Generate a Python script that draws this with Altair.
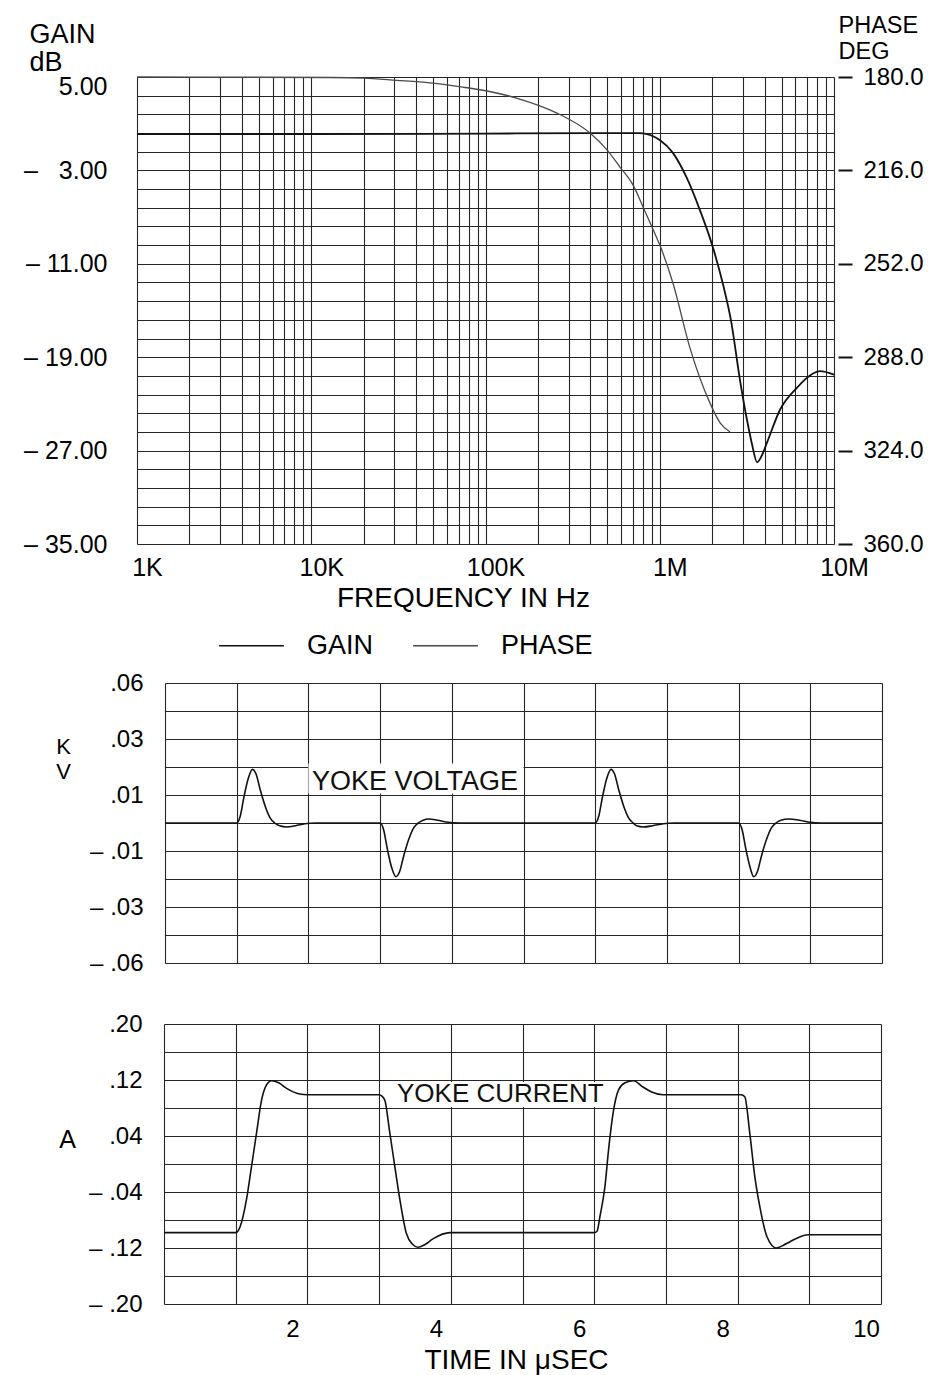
import json
import altair as alt
import pandas as pd

FONT = "Liberation Sans"
INK = "#111111"
PHASE_INK = "#4a4a4a"
GRID = "#262626"

W = 928
H_TOP, H_MID, H_BOT = 665, 330, 380

# ---------------- Bode plot (gain / phase vs frequency) ----------------
gain_freq = [1e3, 1e4, 1e5, 5e5, 7.7e5, 1.0e6, 1.19e6, 1.43e6, 1.70e6, 2.0e6,
             2.31e6, 2.56e6, 2.89e6, 3.17e6, 3.39e6, 3.62e6, 3.86e6, 4.13e6,
             4.9e6, 6.14e6, 7.58e6, 8.32e6, 1e7]
gain_db = [0.1, 0.1, 0.15, 0.2, 0.2, -0.4, -1.5, -3.65, -6.4, -9.4,
           -12.8, -15.8, -21.0, -24.4, -26.5, -28.0, -27.4, -26.3,
           -23.5, -21.6, -20.4, -20.2, -20.5]

phase_freq = [1e3, 5e3, 12.8e3, 19.8e3, 31e3, 48e3, 74e3, 102e3, 152e3, 257e3,
              398e3, 498e3, 591e3, 702e3, 802e3, 902e3, 1.0e6, 1.19e6, 1.49e6,
              1.94e6, 2.22e6, 2.53e6]
phase_deg = [180.0, 180.1, 180.2, 180.4, 181.3, 182.3, 183.9, 185.4, 188.2, 193.9,
             201.6, 208.1, 214.7, 221.6, 230.1, 237.8, 244.7, 259.4, 284.4,
             305.6, 313.3, 316.8]

series_names = ["GAIN", "PHASE"]

freq_grid = [m * 10 ** e for e in range(3, 7) for m in range(1, 10)] + [10 ** 7]
freq_label_vals = [1000, 10000, 100000, 1000000, 10000000]
freq_labels = ["1K", "10K", "100K", "1M", "10M"]

gain_grid = [5, 3.4, 1.8, 0.2, -1.4, -3, -4.6, -6.2, -7.8, -9.4, -11, -12.6, -14.2,
             -15.8, -17.4, -19, -20.6, -22.2, -23.8, -25.4, -27, -28.6, -30.2,
             -31.8, -33.4, -35]
gain_label_keys = [50, -30, -110, -190, -270, -350]          # value * 10
gain_labels = ["5.00", "\u2013\u00a0\u00a0\u00a03.00", "\u2013\u00a011.00",
               "\u2013\u00a019.00", "\u2013\u00a027.00", "\u2013\u00a035.00"]

phase_ticks = [180, 216, 252, 288, 324, 360]

# ---------------- Yoke voltage ----------------
volt_t = [0.0, 1.0, 1.05, 1.10, 1.16, 1.22, 1.27, 1.33, 1.40, 1.47,
          1.53, 1.60, 1.70, 1.82, 1.95, 2.10, 3.0, 3.05, 3.10, 3.16,
          3.22, 3.27, 3.33, 3.40, 3.47, 3.53, 3.60, 3.68, 3.80, 3.95,
          4.10, 6.0, 6.05, 6.10, 6.16, 6.22, 6.27, 6.33, 6.40, 6.47,
          6.53, 6.58, 6.67, 6.80, 6.95, 7.10, 8.0, 8.05, 8.10, 8.16,
          8.21, 8.26, 8.32, 8.39, 8.46, 8.52, 8.59, 8.70, 8.85, 9.0,
          9.15, 10.0]
volt_kv = [0, 0, 0.003, 0.011, 0.019, 0.023, 0.021, 0.014, 0.007, 0.002,
           0.0, -0.0012, -0.0017, -0.0012, -0.0003, 0, 0, -0.003, -0.011, -0.019,
           -0.023, -0.021, -0.014, -0.007, -0.002, 0.0, 0.0012, 0.0017, 0.0012, 0.0003,
           0, 0, 0.003, 0.011, 0.019, 0.023, 0.021, 0.014, 0.007, 0.002,
           0.0, -0.0012, -0.0017, -0.0012, -0.0003, 0, 0, -0.003, -0.011, -0.019,
           -0.023, -0.021, -0.014, -0.007, -0.002, 0.0, 0.0012, 0.0017, 0.0012, 0.0003,
           0, 0]
volt_grid = [0.06, 0.048, 0.036, 0.024, 0.012, 0, -0.012, -0.024, -0.036, -0.048, -0.06]
volt_label_keys = [60, 36, 12, -12, -36, -60]                 # value * 1000
volt_labels = [".06", ".03", ".01", "\u2013\u00a0.01", "\u2013\u00a0.03", "\u2013\u00a0.06"]
volt_note = {"t": [2.05], "v": [0.0176], "label": ["YOKE VOLTAGE"]}
volt_note_box = {"t0": [2.0], "t1": [5.0], "v0": [0.0126], "v1": [0.0255]}

# ---------------- Yoke current ----------------
cur_t = [0, 1.0, 1.03, 1.06, 1.15, 1.22, 1.29, 1.36, 1.43, 1.50,
         1.60, 1.71, 1.89, 2.0, 3.0, 3.04, 3.08, 3.15, 3.22, 3.29,
         3.38, 3.47, 3.54, 3.64, 3.75, 3.99, 6.0, 6.04, 6.08, 6.15,
         6.20, 6.27, 6.34, 6.43, 6.55, 6.68, 6.80, 6.96, 8.05, 8.10,
         8.17, 8.24, 8.31, 8.41, 8.54, 8.64, 8.73, 8.99, 10.0]
cur_a = [-0.098, -0.098, -0.096, -0.090, -0.051, -0.004, 0.044, 0.091, 0.113, 0.119,
         0.116, 0.108, 0.100, 0.099, 0.099, 0.097, 0.091, 0.044, -0.004, -0.051,
         -0.099, -0.115, -0.119, -0.115, -0.107, -0.098, -0.098, -0.096, -0.075, -0.032,
         0.020, 0.077, 0.106, 0.116, 0.119, 0.110, 0.103, 0.099, 0.099, 0.096,
         0.044, -0.018, -0.061, -0.104, -0.120, -0.116, -0.111, -0.101, -0.101]
cur_grid = [0.2, 0.16, 0.12, 0.08, 0.04, 0, -0.04, -0.08, -0.12, -0.16, -0.2]
cur_label_keys = [20, 12, 4, -4, -12, -20]                     # value * 100
cur_labels = [".20", ".12", ".04", "\u2013\u00a0.04", "\u2013\u00a0.12", "\u2013\u00a0.20"]
cur_note = {"t": [3.25], "a": [0.1], "label": ["YOKE CURRENT"]}
cur_note_box = {"t0": [3.15], "t1": [6.2], "a0": [0.0815], "a1": [0.117]}

time_grid = [0, 1, 2, 3, 4, 5, 6, 7, 8, 9, 10]
time_labels = [2, 4, 6, 8, 10]


def lookup_expr(keys, labels, mult):
    k = json.dumps(keys)
    lab = json.dumps(labels, ensure_ascii=False)
    idx = f"indexof({k}, round(datum.value * {mult}))"
    return f"{idx} < 0 ? '' : {lab}[{idx}]"


def blank_axis(orient):
    return alt.Axis(orient=orient, labels=False, ticks=False, domain=False, grid=False,
                    title=None, minExtent=0, maxExtent=0)


def x_grid_axis():
    return alt.Axis(orient="top", values=time_grid, grid=True, labels=False,
                    ticks=False, domain=False, title=None, minExtent=0, maxExtent=0)


gain_df = pd.DataFrame({"freq": gain_freq, "value": gain_db, "series": series_names[0]})
phase_df = pd.DataFrame({"freq": phase_freq, "value": phase_deg, "series": series_names[1]})
volt_df = pd.DataFrame({"t": volt_t, "kv": volt_kv})
cur_df = pd.DataFrame({"t": cur_t, "a": cur_a})

# ---------------- top: Bode plot ----------------
x_freq = alt.Scale(type="log", domain=[1000, 10 ** 7], range=[137, 834], nice=False)
y_gain = alt.Scale(domain=[-35, 5], range=[544, 77], nice=False, zero=False)
y_phase = alt.Scale(domain=[180, 360], range=[77, 544], nice=False, zero=False)
color_scale = alt.Scale(domain=series_names, range=[INK, PHASE_INK])
legend = alt.Legend(orient="none", legendX=218, legendY=612, direction="horizontal",
                    title=None, symbolType="stroke", symbolSize=4200,
                    symbolStrokeWidth=1.4, labelFontSize=27, labelFont=FONT,
                    labelColor="black", labelOffset=22, columnPadding=36,
                    padding=0, symbolOffset=0)

gain_layer = alt.Chart(gain_df).mark_line(strokeWidth=1.8, interpolate="monotone").encode(
    x=alt.X("freq:Q", scale=x_freq,
            axis=alt.Axis(orient="top", values=freq_grid, grid=True, labels=False,
                          ticks=False, domain=False, title=None, minExtent=0, maxExtent=0)),
    y=alt.Y("value:Q", scale=y_gain,
            axis=alt.Axis(orient="left", offset=-137, values=gain_grid, grid=True,
                          ticks=False, tickSize=0, domain=False,
                          labelExpr=lookup_expr(gain_label_keys, gain_labels, 10),
                          labelOffset={"condition": {"test": "datum.value == 5", "value": 9},
                                       "value": 0},
                          labelPadding=30, labelFontSize=25, labelOverlap=False,
                          labelFlush=False,
                          title=["GAIN", "dB"], titleAngle=0, titleAlign="left",
                          titleBaseline="alphabetic", titleX=-108, titleY=42,
                          titleFontSize=27, titleLineHeight=28)),
    color=alt.Color("series:N", scale=color_scale, legend=legend),
)

phase_layer = alt.Chart(phase_df).mark_line(strokeWidth=1.3, interpolate="monotone").encode(
    x=alt.X("freq:Q", scale=x_freq,
            axis=alt.Axis(orient="bottom", offset=544 - H_TOP, values=freq_label_vals,
                          labelExpr=lookup_expr(freq_label_vals, freq_labels, 1),
                          grid=False, ticks=False, tickSize=0, domain=False,
                          labelPadding=11, labelFontSize=25, labelOffset=10,
                          labelFlush=False, labelOverlap=False,
                          title="FREQUENCY IN Hz", titleX=463, titleY=62,
                          titleAlign="center", titleBaseline="alphabetic",
                          titleFontSize=28)),
    y=alt.Y("value:Q", scale=y_phase,
            axis=alt.Axis(orient="right", offset=-90, values=phase_ticks, format=".1f",
                          grid=False, ticks=True, tickSize=14, tickWidth=2,
                          tickColor=INK, domain=False, labelPadding=11,
                          labelFontSize=24, labelOverlap=False, labelFlush=False,
                          title=["PHASE", "DEG"], titleAngle=0, titleAlign="left",
                          titleBaseline="alphabetic", titleX=0, titleY=32,
                          titleFontSize=23.5, titleLineHeight=26)),
    color=alt.Color("series:N", scale=color_scale, legend=legend),
)

top = alt.layer(gain_layer, phase_layer).resolve_scale(y="independent").properties(
    width=W, height=H_TOP)

# ---------------- middle: yoke voltage ----------------
x_time_mid = alt.Scale(domain=[0, 10], range=[165, 882], nice=False, zero=False)
y_volt = alt.Scale(domain=[-0.06, 0.06], range=[298, 18], nice=False, zero=False)

volt_y_axis = alt.Axis(orient="left", offset=-165, values=volt_grid, grid=True,
                       ticks=False, tickSize=0, domain=False,
                       labelExpr=lookup_expr(volt_label_keys, volt_labels, 1000),
                       labelPadding=22, labelFontSize=24, labelOverlap=False,
                       labelFlush=False,
                       title=["K", "V"], titleAngle=0, titleAlign="center",
                       titleBaseline="alphabetic", titleX=-102, titleY=88,
                       titleFontSize=22, titleLineHeight=25)

volt_line = alt.Chart(volt_df).mark_line(color=INK, strokeWidth=1.6, interpolate="monotone").encode(
    x=alt.X("t:Q", scale=x_time_mid, axis=x_grid_axis()),
    y=alt.Y("kv:Q", scale=y_volt, axis=volt_y_axis),
)
volt_box = alt.Chart(pd.DataFrame(volt_note_box)).mark_rect(color="white").encode(
    x=alt.X("t0:Q", scale=x_time_mid, axis=blank_axis("bottom")),
    x2="t1:Q",
    y=alt.Y("v0:Q", scale=y_volt, axis=blank_axis("right")),
    y2="v1:Q",
)
volt_text = alt.Chart(pd.DataFrame(volt_note)).mark_text(
    align="left", baseline="middle", fontSize=27, font=FONT, color=INK).encode(
    x=alt.X("t:Q", scale=x_time_mid, axis=blank_axis("bottom")),
    y=alt.Y("v:Q", scale=y_volt, axis=blank_axis("right")),
    text="label:N",
)
mid = alt.layer(volt_line, volt_box, volt_text).properties(width=W, height=H_MID)

# ---------------- bottom: yoke current ----------------
x_time_bot = alt.Scale(domain=[0, 10], range=[164, 881], nice=False, zero=False)
y_cur = alt.Scale(domain=[-0.2, 0.2], range=[309, 29], nice=False, zero=False)

cur_y_axis = alt.Axis(orient="left", offset=-164, values=cur_grid, grid=True,
                      ticks=False, tickSize=0, domain=False,
                      labelExpr=lookup_expr(cur_label_keys, cur_labels, 100),
                      labelPadding=22, labelFontSize=24, labelOverlap=False,
                      labelFlush=False,
                      title="A", titleAngle=0, titleAlign="center",
                      titleBaseline="alphabetic", titleX=-97, titleY=152,
                      titleFontSize=25)
time_axis = alt.Axis(orient="bottom", offset=309 - H_BOT, values=time_labels,
                     format="d", grid=False, ticks=False, tickSize=0, domain=False,
                     labelPadding=13, labelFontSize=24, labelOffset=-15,
                     labelFlush=False, labelOverlap=False,
                     title="TIME IN \u03bcSEC", titleX=516, titleY=64,
                     titleAlign="center", titleBaseline="alphabetic",
                     titleFontSize=28)

cur_line = alt.Chart(cur_df).mark_line(color=INK, strokeWidth=1.6, interpolate="monotone").encode(
    x=alt.X("t:Q", scale=x_time_bot, axis=x_grid_axis()),
    y=alt.Y("a:Q", scale=y_cur, axis=cur_y_axis),
)
cur_box = alt.Chart(pd.DataFrame(cur_note_box)).mark_rect(color="white").encode(
    x=alt.X("t0:Q", scale=x_time_bot, axis=time_axis),
    x2="t1:Q",
    y=alt.Y("a0:Q", scale=y_cur, axis=blank_axis("right")),
    y2="a1:Q",
)
cur_text = alt.Chart(pd.DataFrame(cur_note)).mark_text(
    align="left", baseline="middle", fontSize=26, font=FONT, color=INK).encode(
    x=alt.X("t:Q", scale=x_time_bot, axis=blank_axis("bottom")),
    y=alt.Y("a:Q", scale=y_cur, axis=blank_axis("right")),
    text="label:N",
)
bot = alt.layer(cur_line, cur_box, cur_text).properties(width=W, height=H_BOT)

chart = alt.vconcat(top, mid, bot, spacing=0, bounds="flush", padding=0,
                    background="white").configure(font=FONT).configure_view(
    stroke=None).configure_axis(
    labelColor="black", titleColor="black", labelFont=FONT, titleFont=FONT,
    titleFontWeight="normal", gridColor=GRID, gridOpacity=1, gridWidth=1.1)

chart.save("out.html", embed_options={"renderer": "svg", "actions": False})
